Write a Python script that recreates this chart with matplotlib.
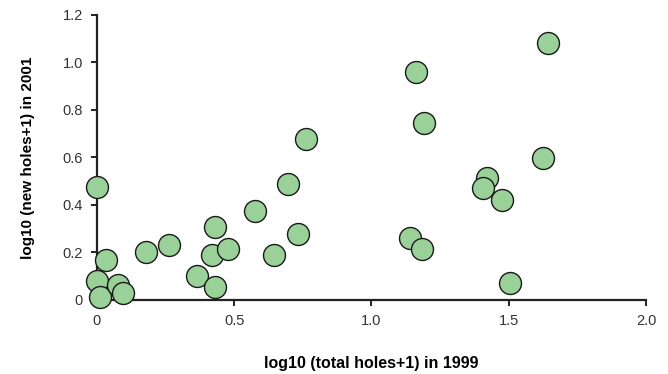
import matplotlib
matplotlib.use("Agg")
import matplotlib.pyplot as plt
from matplotlib.ticker import FuncFormatter

plt.rcParams['font.family'] = ['Liberation Sans', 'DejaVu Sans']

# log10(total holes+1) in 1999
total_1999 = [0.0, 0.035, 0.0, 0.013, 0.077, 0.095, 0.178, 0.261, 0.365, 0.431,
              0.421, 0.476, 0.431, 0.575, 0.646, 0.697, 0.731, 0.762,
              1.644, 1.163, 1.191, 1.626, 1.42, 1.408, 1.477, 1.14, 1.185, 1.505]
# log10(new holes+1) in 2001
new_2001 = [0.477, 0.168, 0.08, 0.014, 0.063, 0.031, 0.2, 0.232, 0.101, 0.056,
            0.189, 0.213, 0.306, 0.376, 0.188, 0.488, 0.277, 0.677,
            1.081, 0.961, 0.746, 0.596, 0.515, 0.47, 0.421, 0.26, 0.213, 0.07]

xticks = [0, 0.5, 1.0, 1.5, 2.0]
yticks = [0, 0.2, 0.4, 0.6, 0.8, 1.0, 1.2]

fig = plt.figure(figsize=(6.68, 3.74), dpi=100)
ax = fig.add_axes([0.145, 0.198, 0.822, 0.762])

ax.scatter(total_1999, new_2001, s=250, c='#99d199', edgecolors='#1a1a1a',
           linewidths=1.0, zorder=5, clip_on=False)

ax.set_xlim(0, 2.0)
ax.set_ylim(0, 1.2)
ax.set_xticks(xticks)
ax.set_yticks(yticks)
fmt = FuncFormatter(lambda v, p: '0' if v == 0 else '%.1f' % v)
ax.xaxis.set_major_formatter(fmt)
ax.yaxis.set_major_formatter(fmt)

for s in ['top', 'right']:
    ax.spines[s].set_visible(False)
for s in ['left', 'bottom']:
    ax.spines[s].set_linewidth(1.6)
    ax.spines[s].set_color('#222222')
ax.tick_params(direction='out', length=4, width=1.4, color='#222222',
               labelsize=10.5, labelcolor='#333333', pad=6)

ax.set_xlabel('log10 (total holes+1) in 1999', fontsize=11.5, fontweight='bold',
              labelpad=20)
ax.set_ylabel('log10 (new holes+1) in 2001', fontsize=11, fontweight='bold',
              labelpad=20)

fig.savefig('out.png', dpi=100)
